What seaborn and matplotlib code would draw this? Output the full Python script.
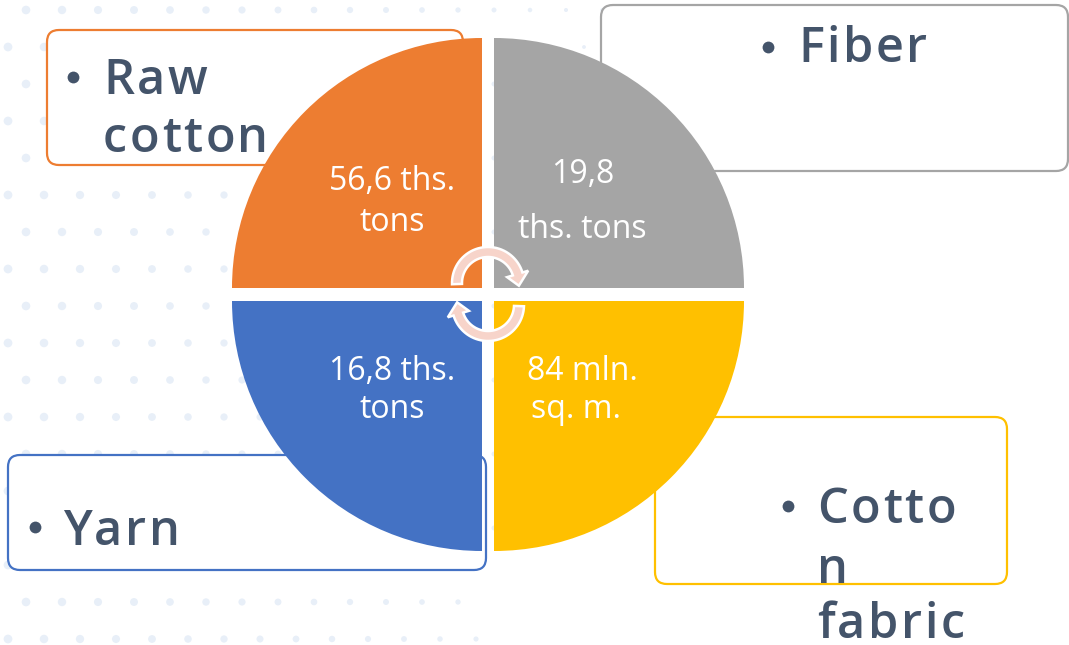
import numpy as np
import matplotlib
matplotlib.use("Agg")
import matplotlib.pyplot as plt
import seaborn as sns
from matplotlib.patches import Wedge, FancyBboxPatch, Polygon

sns.set_theme(style="white")
plt.rcParams['font.family'] = ['Open Sans', 'DejaVu Sans']

# stages of the cotton chain and their volumes
stages = ["Raw cotton", "Fiber", "Cotton fabric", "Yarn"]
stage_lines = [["Raw", "cotton"], ["Fiber"], ["Cotto", "n", "fabric"], ["Yarn"]]
volumes = [["56,6 ths.", "tons"], ["19,8", "ths. tons"], ["84 mln.", "sq. m."], ["16,8 ths.", "tons"]]
colors = ["#ED7D31", "#A5A5A5", "#FFC000", "#4472C4"]
text_col = "#44546A"

W, H = 1069, 645
fig = plt.figure(figsize=(W / 100, H / 100), dpi=100)
ax = fig.add_axes([0, 0, 1, 1])
ax.set_xlim(0, W)
ax.set_ylim(H, 0)
ax.axis("off")

# faint dotted background on the left
dx, dy = [], []
for r in range(0, 18):
    for c in range(0, 20):
        x = c * 36 + (r % 2) * 18 - 10
        y = r * 37 + 10
        if x < 620 - r * 8:
            dx.append(x)
            dy.append(y)
dx = np.array(dx)
ax.scatter(dx, dy, s=np.clip(40 - dx / 18, 4, 40), color="#E8EFF8", zorder=0, lw=0)

# boxes behind the pie: (x0, y0, x1, y1)
boxes = [(47, 30, 463, 165), (601, 5, 1068, 171), (655, 417, 1007, 584), (8, 455, 486, 570)]
for (x0, y0, x1, y1), col in zip(boxes, colors):
    ax.add_patch(FancyBboxPatch((x0 + 12, y0 + 12), x1 - x0 - 24, y1 - y0 - 24,
                                boxstyle="round,pad=12", fc="white", ec=col, lw=1.6, zorder=1))

# quadrants: centres and angle spans (y axis inverted, so angles mirrored)
R = 250
centres = [(482, 288), (494, 288), (494, 301), (482, 301)]
spans = [(180, 270), (270, 360), (0, 90), (90, 180)]
for (cx, cy), (a0, a1), col in zip(centres, spans, colors):
    ax.add_patch(Wedge((cx, cy), R, a0, a1, fc=col, ec="none", zorder=2))

# volume labels
vol_pos = [((392, 190), (392, 231)), ((583, 183), (582, 238)),
           ((582, 380), (576, 418)), ((392, 380), (392, 418))]
for lines, pos in zip(volumes, vol_pos):
    for s, (x, y) in zip(lines, pos):
        ax.text(x, y, s, color="white", fontsize=23, ha="center", va="baseline", zorder=4)

# stage labels, letter-spaced
fig.canvas.draw()
rend = fig.canvas.get_renderer()


def spaced(x, y, s, size=35, gap=2.6):
    for ch in s:
        t = ax.text(x, y, ch, color=text_col, fontsize=size, fontweight="semibold",
                    ha="left", va="baseline", zorder=5)
        x += t.get_window_extent(rend).width + gap


label_pos = [(73, 103, [94, 152], 77), (768, 798, [62], 47),
             (788, 817, [523, 583, 638], 506), (35, 63, [545], 527)]
for lines, (bx, tx, ys, by) in zip(stage_lines, label_pos):
    ax.plot(bx, by, "o", ms=8.5, color=text_col, mec="none", zorder=5)
    for s, y in zip(lines, ys):
        spaced(tx, y, s)


# circular arrows in the centre
def arc_arrow(cx, cy, r, t0, t1, tail=5, head=11, head_deg=22):
    sgn = np.sign(t1 - t0)
    te = t1 - sgn * head_deg
    t = np.radians(np.linspace(t0, te, 40))
    outer = np.column_stack([cx + (r + tail) * np.cos(t), cy - (r + tail) * np.sin(t)])
    inner = np.column_stack([cx + (r - tail) * np.cos(t), cy - (r - tail) * np.sin(t)])[::-1]
    e, f = np.radians(te), np.radians(t1)
    hd = np.array([[cx + (r + head) * np.cos(e), cy - (r + head) * np.sin(e)],
                   [cx + r * np.cos(f), cy - r * np.sin(f)],
                   [cx + (r - head) * np.cos(e), cy - (r - head) * np.sin(e)]])
    return np.vstack([outer, hd, inner])


for (cx, cy, t0, t1) in [(488, 283, 182, -5), (488, 305, -2, -185)]:
    ax.add_patch(Polygon(arc_arrow(cx, cy, 31, t0, t1), closed=True,
                         fc="#F7D4CA", ec="white", lw=1.8, zorder=6))

fig.savefig("out.png", dpi=100)
